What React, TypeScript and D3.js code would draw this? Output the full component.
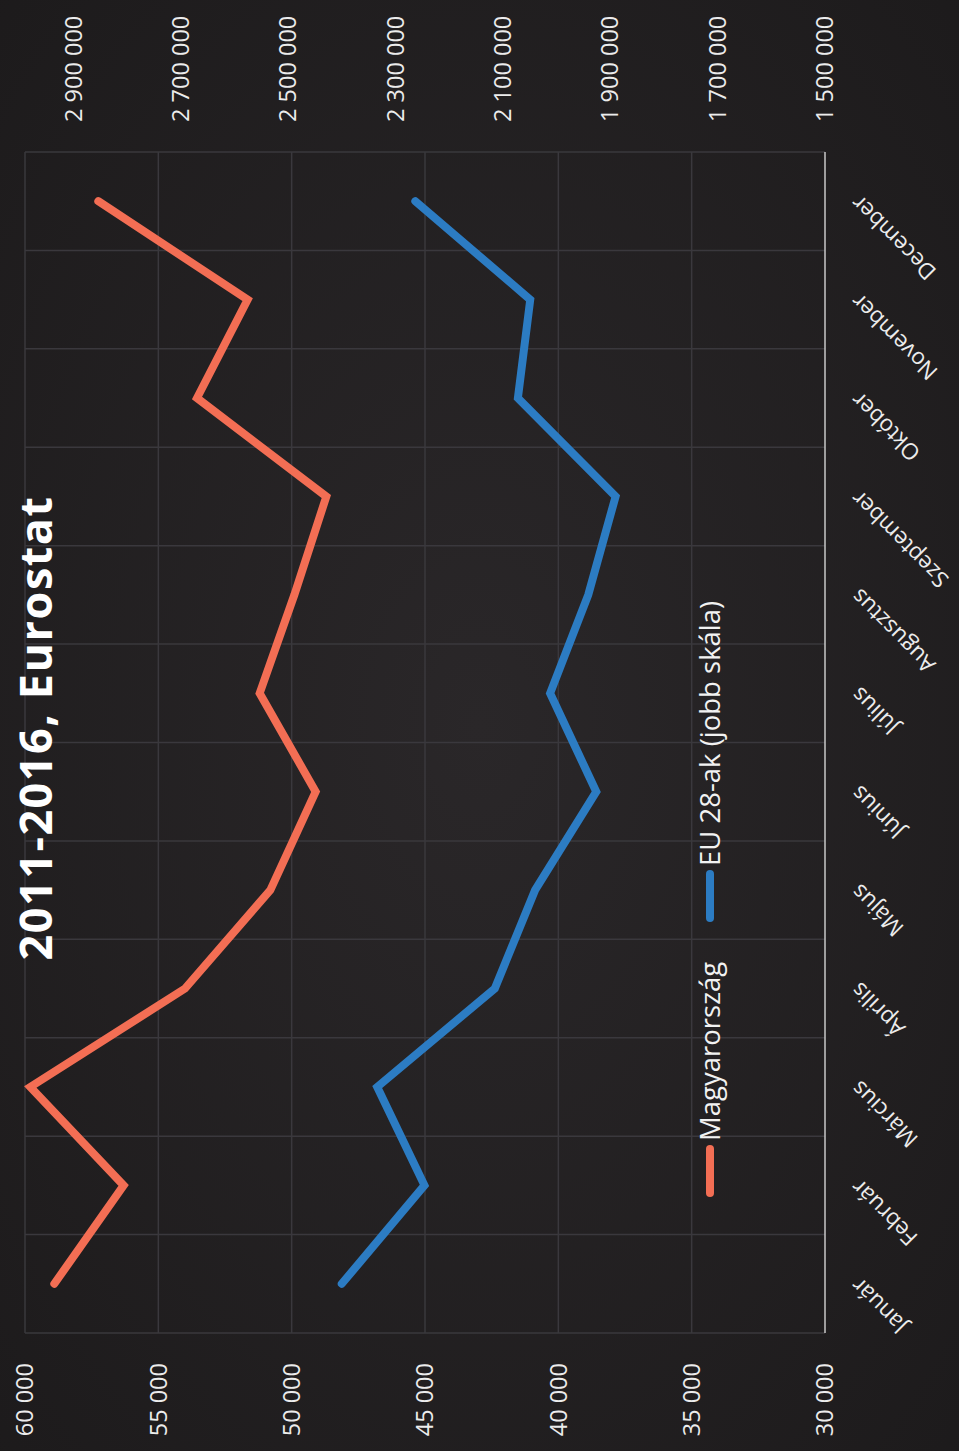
import React, { useEffect, useRef } from 'react';
import * as d3 from 'd3';

const months = [
  'Január', 'Február', 'Március', 'Április', 'Május', 'Június',
  'Július', 'Augusztus', 'Szeptember', 'Október', 'November', 'December',
];
// Magyarország (bal skála)
const hungary = [58900, 56300, 59800, 54000, 50800, 49100, 51200, 49900, 48700, 53550, 51650, 57250];
// EU 28-ak (jobb skála)
const eu28 = [2400000, 2246000, 2334000, 2115000, 2040000, 1926000, 2012000, 1941000, 1890000, 2072000, 2049000, 2263000];
const leftTicks = [30000, 35000, 40000, 45000, 50000, 55000, 60000];
const rightTicks = [1500000, 1700000, 1900000, 2100000, 2300000, 2500000, 2700000, 2900000];

const title = '2011-2016, Eurostat';
const seriesNames = ['Magyarország', 'EU 28-ak (jobb skála)'];

const W = 959;
const H = 1451;

const App: React.FC = () => {
  const svgRef = useRef<SVGSVGElement>(null);

  useEffect(() => {
    document.body.style.margin = '0';
    // chart is drawn unrotated (width = H, height = W), then turned -90deg
    const cw = H;
    const margin = { top: 25, right: 152, bottom: 134, left: 118 };
    const plotBottom = W - margin.bottom;

    const svg = d3.select(svgRef.current)
      .attr('width', W)
      .attr('height', H)
      .html('');

    const defs = svg.append('defs');
    const grad = defs.append('radialGradient').attr('id', 'bg').attr('cx', '50%').attr('cy', '50%').attr('r', '75%');
    grad.append('stop').attr('offset', '0%').attr('stop-color', '#2a2729');
    grad.append('stop').attr('offset', '100%').attr('stop-color', '#1c1a1b');
    svg.append('rect').attr('width', W).attr('height', H).attr('fill', 'url(#bg)');

    const g = svg.append('g').attr('transform', `translate(0,${H}) rotate(-90)`);

    const x = d3.scaleBand<string>()
      .domain(months)
      .range([margin.left, cw - margin.right]);

    const yL = d3.scaleLinear().domain([30000, 60000]).range([plotBottom, margin.top]);
    const yR = d3.scaleLinear().domain([1500000, 2990000]).range([plotBottom, margin.top]);

    const fmt = (v: number) => d3.format(',')(v).replace(/,/g, ' ');
    const font = "'Open Sans', 'Noto Sans', sans-serif";

    // grid
    const grid = g.append('g').attr('stroke', '#3a383d').attr('stroke-width', 1.5);
    grid.selectAll('line.h')
      .data(leftTicks.slice(1))
      .enter().append('line')
      .attr('x1', margin.left).attr('x2', cw - margin.right)
      .attr('y1', d => yL(d)).attr('y2', d => yL(d));
    const bounds = months.map(m => x(m)!).concat([x(months[months.length - 1])! + x.bandwidth()]);
    grid.selectAll('line.v')
      .data(bounds)
      .enter().append('line')
      .attr('x1', d => d).attr('x2', d => d)
      .attr('y1', margin.top).attr('y2', plotBottom);

    // axis line
    g.append('line')
      .attr('x1', margin.left).attr('x2', cw - margin.right)
      .attr('y1', plotBottom).attr('y2', plotBottom)
      .attr('stroke', '#c9c9c9').attr('stroke-width', 1.5);

    // left labels
    g.append('g').selectAll('text')
      .data(leftTicks)
      .enter().append('text')
      .attr('x', margin.left - 30)
      .attr('y', d => yL(d))
      .attr('dy', '0.35em')
      .attr('text-anchor', 'end')
      .attr('fill', '#ececec')
      .attr('font-family', font)
      .attr('font-size', 23.5)
      .text(d => fmt(d));

    // right labels
    g.append('g').selectAll('text')
      .data(rightTicks)
      .enter().append('text')
      .attr('x', cw - margin.right + 30)
      .attr('y', d => yR(d))
      .attr('dy', '0.35em')
      .attr('text-anchor', 'start')
      .attr('fill', '#ececec')
      .attr('font-family', font)
      .attr('font-size', 23.5)
      .text(d => fmt(d));

    // month labels
    g.append('g').selectAll('text')
      .data(months)
      .enter().append('text')
      .attr('transform', d => `translate(${x(d)! + x.bandwidth() / 2 + 2},${plotBottom + 30}) rotate(-45)`)
      .attr('dy', '0.35em')
      .attr('text-anchor', 'end')
      .attr('fill', '#ececec')
      .attr('font-family', font)
      .attr('font-size', 22.5)
      .text(d => d);

    const cx = (d: string) => x(d)! + x.bandwidth() / 2;

    const lineL = d3.line<number>().x((_, i) => cx(months[i])).y(d => yL(d));
    const lineR = d3.line<number>().x((_, i) => cx(months[i])).y(d => yR(d));

    g.append('path')
      .attr('d', lineL(hungary)!)
      .attr('fill', 'none')
      .attr('stroke', '#f36e54')
      .attr('stroke-width', 8)
      .attr('stroke-linecap', 'round');

    g.append('path')
      .attr('d', lineR(eu28)!)
      .attr('fill', 'none')
      .attr('stroke', '#2c7cc3')
      .attr('stroke-width', 8)
      .attr('stroke-linecap', 'round');

    // title
    g.append('text')
      .attr('x', 723)
      .attr('y', 52)
      .attr('text-anchor', 'middle')
      .attr('fill', '#ffffff')
      .attr('font-family', font)
      .attr('font-weight', 700)
      .attr('font-size', 45)
      .attr('letter-spacing', 1.5)
      .text(title);

    // legend
    const ly = 710;
    const legend = g.append('g').attr('font-family', font).attr('font-size', 27.5).attr('fill', '#f2f2f2');
    const items = [
      { name: seriesNames[0], color: '#f36e54', x0: 258 },
      { name: seriesNames[1], color: '#2c7cc3', x0: 533 },
    ];
    items.forEach(it => {
      legend.append('line')
        .attr('x1', it.x0).attr('x2', it.x0 + 44)
        .attr('y1', ly).attr('y2', ly)
        .attr('stroke', it.color).attr('stroke-width', 8).attr('stroke-linecap', 'round');
      legend.append('text')
        .attr('x', it.x0 + 52)
        .attr('y', ly)
        .attr('dy', '0.35em')
        .text(it.name);
    });
  }, []);

  return <svg ref={svgRef} style={{ display: 'block' }} />;
};

export default App;
